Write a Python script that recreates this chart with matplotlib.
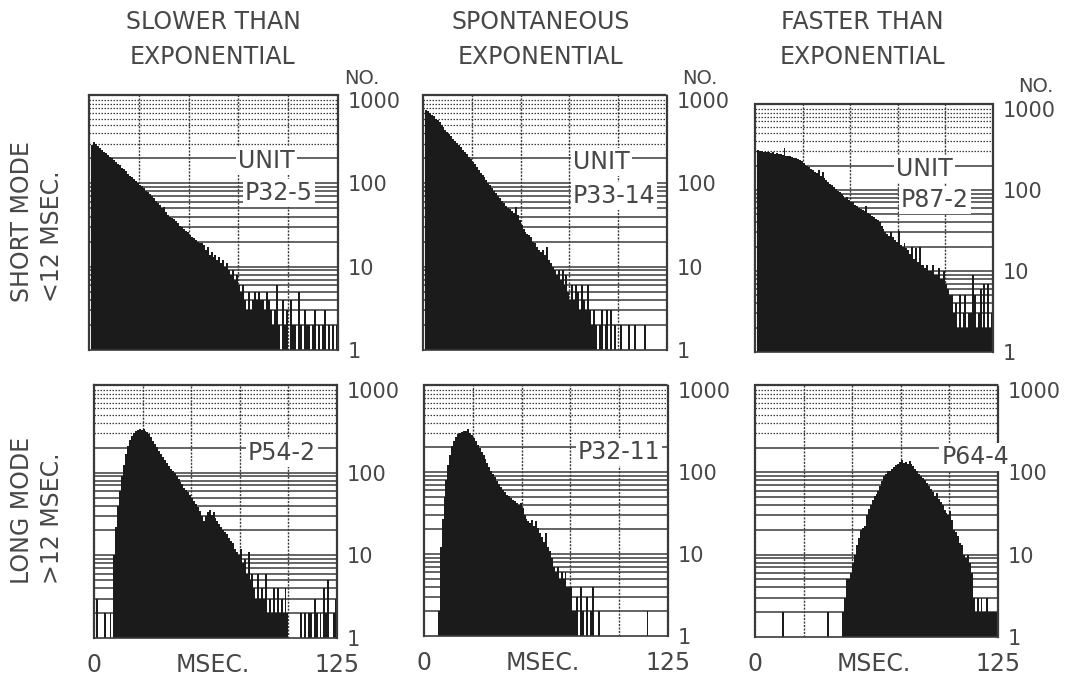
import numpy as np
import matplotlib
matplotlib.use("Agg")
import matplotlib.pyplot as plt
from matplotlib.ticker import NullLocator

# ---------------- data (counts per 1-ms bin, 0..124 ms) ----------------
bin_ms = np.arange(125)

p32_5 = [0, 290, 310, 300, 280, 265, 255, 240, 230, 220,
         210, 200, 192, 180, 172, 165, 155, 148, 140, 130,
         124, 118, 112, 106, 100, 96, 92, 88, 82, 78,
         74, 70, 66, 62, 58, 55, 50, 52, 45, 42,
         40, 38, 37, 35, 33, 31, 30, 28, 27, 26,
         24, 23, 22, 21, 20, 19, 19, 18, 16, 17,
         14, 15, 13, 14, 12, 13, 11, 12, 10, 11,
         9, 8, 9, 7, 8, 6, 5, 6, 4, 3,
         5, 3, 4, 5, 4, 5, 4, 4, 3, 5,
         4, 3, 2, 3, 6, 2, 0, 4, 2, 3,
         0, 4, 2, 2, 0, 5, 2, 0, 3, 2,
         2, 0, 2, 3, 0, 2, 0, 2, 3, 0,
         2, 0, 2, 0, 2]

p33_14 = [0, 760, 740, 700, 660, 640, 600, 570, 540, 500,
          470, 440, 410, 390, 370, 345, 320, 305, 285, 270,
          250, 238, 225, 210, 195, 180, 170, 158, 146, 135,
          126, 118, 110, 102, 95, 88, 82, 76, 70, 66,
          62, 58, 54, 50, 49, 46, 44, 52, 42, 36,
          32, 28, 26, 25, 24, 23, 20, 19, 17, 16,
          15, 16, 14, 17, 12, 11, 10, 9, 8, 9,
          7, 9, 6, 8, 5, 4, 6, 4, 6, 5,
          3, 6, 4, 3, 6, 3, 2, 3, 2, 0,
          2, 3, 0, 2, 3, 0, 3, 0, 2, 0,
          0, 2, 0, 0, 0, 2, 0, 0, 2, 0,
          0, 0, 0, 2, 0, 0, 0, 0, 0, 0,
          0, 0, 0, 0, 0]

p87_2 = [0, 310, 300, 305, 295, 300, 290, 295, 285, 290,
         280, 285, 275, 280, 270, 330, 265, 260, 262, 255,
         250, 245, 240, 232, 225, 215, 205, 198, 190, 180,
         175, 168, 160, 175, 150, 165, 140, 132, 126, 120,
         114, 108, 102, 98, 94, 88, 85, 80, 82, 76,
         72, 70, 66, 64, 60, 58, 57, 55, 64, 52,
         50, 48, 46, 44, 42, 40, 36, 33, 30, 29,
         27, 30, 26, 24, 23, 31, 21, 20, 22, 19,
         18, 16, 20, 14, 19, 13, 20, 12, 12, 11,
         12, 10, 10, 12, 9, 9, 11, 8, 8, 10,
         7, 6, 5, 5, 3, 4, 2, 5, 2, 3,
         5, 2, 3, 3, 9, 5, 2, 3, 6, 2,
         7, 2, 7, 2, 3]

p54_2 = [0, 3, 0, 0, 0, 2, 0, 0, 2, 0,
         10, 22, 40, 60, 90, 125, 170, 210, 250, 280,
         300, 320, 330, 335, 330, 340, 320, 310, 290, 270,
         245, 225, 205, 185, 170, 155, 142, 132, 122, 112,
         104, 98, 92, 84, 78, 72, 66, 62, 58, 54,
         50, 46, 42, 38, 34, 30, 26, 30, 33, 35,
         31, 33, 28, 26, 24, 22, 20, 19, 18, 16,
         15, 14, 12, 11, 10, 12, 8, 9, 6, 11,
         5, 6, 4, 3, 6, 3, 4, 3, 6, 2,
         3, 2, 4, 2, 4, 2, 3, 2, 4, 2,
         0, 0, 0, 0, 0, 0, 2, 0, 2, 0,
         2, 2, 0, 3, 2, 0, 2, 0, 4, 2,
         5, 0, 0, 2, 3]

p32_11 = [0, 0, 0, 0, 0, 0, 0, 2, 12, 27,
          50, 80, 120, 163, 210, 240, 270, 290, 300, 310,
          320, 315, 330, 300, 280, 260, 240, 215, 196, 175,
          160, 145, 128, 114, 104, 95, 86, 78, 72, 66,
          61, 57, 53, 51, 48, 46, 44, 42, 40, 42,
          36, 30, 27, 25, 24, 26, 22, 25, 21, 18,
          16, 14, 18, 12, 11, 9, 7, 6, 7, 5,
          6, 5, 6, 4, 4, 4, 2, 2, 3, 0,
          4, 2, 0, 3, 0, 2, 4, 0, 0, 2,
          0, 0, 0, 0, 0, 0, 0, 0, 0, 0,
          0, 0, 0, 0, 0, 0, 0, 0, 0, 0,
          0, 0, 0, 0, 2, 0, 0, 0, 0, 0,
          0, 0, 0, 0, 0]

p64_4 = [0, 0, 0, 0, 0, 0, 0, 0, 0, 0,
         0, 0, 0, 0, 2, 0, 0, 0, 0, 0,
         0, 0, 0, 0, 0, 0, 0, 0, 0, 0,
         0, 0, 0, 0, 0, 0, 0, 2, 0, 0,
         0, 0, 0, 0, 0, 2, 3, 5, 5, 6,
         8, 10, 13, 16, 20, 21, 22, 30, 36, 40,
         46, 52, 54, 60, 68, 78, 90, 96, 103, 105,
         110, 117, 122, 125, 134, 140, 130, 134, 128, 136,
         125, 118, 110, 103, 96, 90, 86, 80, 74, 68,
         62, 58, 52, 56, 48, 44, 40, 35, 32, 30,
         34, 26, 20, 19, 17, 14, 13, 10, 9, 10,
         8, 6, 3, 2, 3, 2, 3, 2, 2, 3,
         2, 2, 2, 2, 2]

col_titles = [("SLOWER THAN", "EXPONENTIAL"),
              ("SPONTANEOUS", "EXPONENTIAL"),
              ("FASTER THAN", "EXPONENTIAL")]
row_titles = [("SHORT MODE", "<12 MSEC."), ("LONG MODE", ">12 MSEC.")]
unit_names = ["P32-5", "P33-14", "P87-2", "P54-2", "P32-11", "P64-4"]
series = [p32_5, p33_14, p87_2, p54_2, p32_11, p64_4]
y_ticks = [1, 10, 100, 1000]
y_ticklabels = ["1", "10", "100", "1000"]
x_ticks = [0, 61, 125]
x_ticklabels = ["0", "MSEC.", "125"]

# ---------------- layout ----------------
W, H = 1078, 680
fig = plt.figure(figsize=(W / 100, H / 100), dpi=100)
fig.patch.set_facecolor("white")

TXT = "#474747"
GRID = "#3a3a3a"
BAR = "#1b1b1b"

# panel pixel boxes: left, right, top, bottom
boxes = [(89, 338, 95, 350), (423, 667, 95, 350), (755, 993, 104, 352),
         (94, 337, 385, 638), (424, 668, 385, 636), (755, 998, 385, 637)]
unit_pos = [(266, 161), (601, 162), (924, 169)]
name_pos = [(279, 193), (614, 196), (935, 200), (282, 453), (619, 452), (975, 457)]
no_pos = [(362, 78), (700, 78), (1036, 86)]


def fx(px):
    return px / W


def fy(py):
    return 1 - py / H


for i, (l, r, t, b) in enumerate(boxes):
    ax = fig.add_axes([fx(l), fy(b), (r - l) / W, (b - t) / H])
    ax.set_facecolor("white")
    ax.set_yscale("log")
    ax.set_xlim(0, 125)
    ax.set_ylim(1, 1150)

    # graph-paper grid
    for dec in (1, 10, 100):
        for m in range(1, 10):
            v = m * dec
            if v <= 1:
                continue
            if v >= 300:
                ax.axhline(v, color=GRID, lw=0.9, ls=(0, (1.2, 1.2)), zorder=1)
            else:
                ax.axhline(v, color=GRID, lw=1.1, zorder=1)
    ax.axhline(1000, color=GRID, lw=0.9, ls=(0, (1.2, 1.2)), zorder=1)
    for xv in (25, 50, 75, 100):
        ax.axvline(xv, color=GRID, lw=1.0, ls=(0, (1.5, 1.0)), zorder=1)

    counts = np.asarray(series[i])
    mask = counts > 0
    ax.bar(bin_ms[mask], counts[mask], width=1.0, align="edge",
           color=BAR, linewidth=0, zorder=2)

    for side in ("left", "right", "top"):
        ax.spines[side].set_color(GRID)
        ax.spines[side].set_linewidth(1.6)
        ax.spines[side].set_linestyle((0, (1.0, 0.8)))
    ax.spines["bottom"].set_color(GRID)
    ax.spines["bottom"].set_linewidth(1.2)

    ax.yaxis.tick_right()
    ax.set_yticks(y_ticks)
    ax.set_yticklabels(y_ticklabels)
    ax.yaxis.set_minor_locator(NullLocator())
    ax.tick_params(axis="y", length=0, pad=7, labelsize=15, labelcolor=TXT)

    if i >= 3:
        ax.set_xticks(x_ticks)
        ax.set_xticklabels(x_ticklabels)
        ax.tick_params(axis="x", length=0, pad=11, labelsize=17, labelcolor=TXT)
    else:
        ax.set_xticks([])

    box = dict(facecolor="white", edgecolor="none", pad=1.5)
    if i < 3:
        ux, uy = unit_pos[i]
        ax.text((ux - l) / (r - l), (b - uy) / (b - t), "UNIT",
                transform=ax.transAxes, ha="center", va="center",
                fontsize=17, color=TXT, bbox=box, zorder=4)
    nx, ny = name_pos[i]
    ax.text((nx - l) / (r - l), (b - ny) / (b - t), unit_names[i],
            transform=ax.transAxes, ha="center", va="center",
            fontsize=17, color=TXT, bbox=box, zorder=4, clip_on=False)

# column titles
col_x = [213, 541, 862]
for cx, (a, bb) in zip(col_x, col_titles):
    fig.text(fx(cx), fy(22), a, ha="center", va="center", fontsize=17, color=TXT)
    fig.text(fx(cx), fy(57), bb, ha="center", va="center", fontsize=17, color=TXT)

for (nx, ny) in no_pos:
    fig.text(fx(nx), fy(ny), "NO.", ha="center", va="center", fontsize=14, color=TXT)

# row titles (rotated, bottom-aligned)
row_bottom = [302, 584]
for rb, (a, bb) in zip(row_bottom, row_titles):
    fig.text(fx(22), fy(rb), a, rotation=90, ha="center", va="bottom",
             fontsize=17, color=TXT)
    fig.text(fx(52), fy(rb), bb, rotation=90, ha="center", va="bottom",
             fontsize=17, color=TXT)

fig.savefig("out.png", dpi=100, facecolor="white")
